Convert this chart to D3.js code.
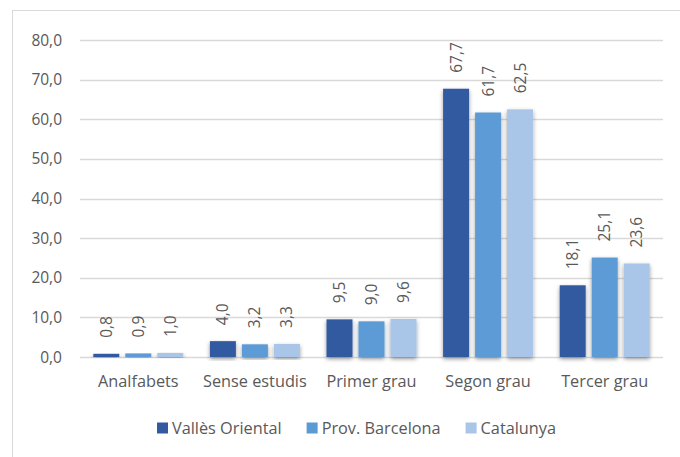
<!DOCTYPE html>
<html>
<head>
<meta charset="utf-8">
<script src="https://cdn.jsdelivr.net/npm/d3@7"></script>
<style>
  body { margin: 0; background: #fff; }
  text { font-family: "Open Sans", sans-serif; fill: #595959; }
</style>
</head>
<body>
<div id="chart"></div>
<script>
// Data
const categories = ['Analfabets', 'Sense estudis', 'Primer grau', 'Segon grau', 'Tercer grau'];
const seriesNames = ['Vallès Oriental', 'Prov. Barcelona', 'Catalunya'];
const vallesOriental = [0.8, 4.0, 9.5, 67.7, 18.1];
const provBarcelona = [0.9, 3.2, 9.0, 61.7, 25.1];
const catalunya = [1.0, 3.3, 9.6, 62.5, 23.6];
const yTicks = [0, 10, 20, 30, 40, 50, 60, 70, 80];

const colors = ['#335AA1', '#5B9BD5', '#A9C5E7'];
const seriesValues = [vallesOriental, provBarcelona, catalunya];

const width = 680;
const height = 457;

const svg = d3.select('#chart')
    .append('svg')
    .attr('width', width)
    .attr('height', height);

// shadow for the bars
const defs = svg.append('defs');
const filter = defs.append('filter')
    .attr('id', 'shadow')
    .attr('x', '-30%').attr('y', '-10%')
    .attr('width', '160%').attr('height', '130%');
filter.append('feDropShadow')
    .attr('dx', 0)
    .attr('dy', 2)
    .attr('stdDeviation', 2)
    .attr('flood-color', '#000')
    .attr('flood-opacity', 0.4);

// chart frame (runs off the right and bottom edges)
svg.append('rect')
    .attr('x', 12.5)
    .attr('y', 10.5)
    .attr('width', 700)
    .attr('height', 500)
    .attr('fill', 'none')
    .attr('stroke', '#d9d9d9');

const x0 = d3.scaleBand()
    .domain(categories)
    .range([80, 663])
    .paddingInner(0.228)
    .paddingOuter(0.114);

const x1 = d3.scaleBand()
    .domain(seriesNames)
    .range([0, x0.bandwidth()])
    .paddingInner(0.1875);

const y = d3.scaleLinear()
    .domain([0, 80])
    .range([357, 40]);

// gridlines
svg.append('g')
    .selectAll('line')
    .data(yTicks)
    .join('line')
        .attr('x1', 80)
        .attr('x2', 663)
        .attr('y1', d => Math.round(y(d)) + 0.5)
        .attr('y2', d => Math.round(y(d)) + 0.5)
        .attr('stroke', '#d9d9d9')
        .attr('stroke-width', 1.3);

// y tick labels
svg.append('g')
    .selectAll('text')
    .data(yTicks)
    .join('text')
        .attr('x', 62)
        .attr('y', d => y(d))
        .attr('dy', '0.36em')
        .attr('text-anchor', 'end')
        .style('font-size', '15.5px')
        .text(d => d3.format('.1f')(d).replace('.', ','));

// bars
const rows = categories.map((c, i) => ({
    category: c,
    values: seriesNames.map((s, j) => ({ series: s, value: seriesValues[j][i], color: colors[j] }))
}));

const groups = svg.append('g')
    .selectAll('g')
    .data(rows)
    .join('g')
        .attr('transform', d => `translate(${x0(d.category)}, 0)`);

groups.selectAll('rect')
    .data(d => d.values)
    .join('rect')
        .attr('x', d => x1(d.series))
        .attr('y', d => y(d.value))
        .attr('width', x1.bandwidth())
        .attr('height', d => y(0) - y(d.value))
        .attr('fill', d => d.color)
        .attr('filter', 'url(#shadow)');

// value labels, rotated
groups.selectAll('text')
    .data(d => d.values)
    .join('text')
        .attr('transform', d => `translate(${x1(d.series) + x1.bandwidth() / 2}, ${y(d.value) - 16}) rotate(-90)`)
        .attr('dy', '0.36em')
        .attr('text-anchor', 'start')
        .style('font-size', '15.5px')
        .text(d => d3.format('.1f')(d.value).replace('.', ','));

// category labels
svg.append('g')
    .selectAll('text')
    .data(categories)
    .join('text')
        .attr('x', d => x0(d) + x0.bandwidth() / 2)
        .attr('y', 387)
        .attr('text-anchor', 'middle')
        .style('font-size', '16.3px')
        .text(d => d);

// legend
const legend = svg.append('g');
let lx = 157;
seriesNames.forEach((name, i) => {
    legend.append('rect')
        .attr('x', lx)
        .attr('y', 422.5)
        .attr('width', 11)
        .attr('height', 11)
        .attr('fill', colors[i]);
    const t = legend.append('text')
        .attr('x', lx + 15)
        .attr('y', 428)
        .attr('dy', '0.36em')
        .style('font-size', '16.3px')
        .text(name);
    lx += 15 + t.node().getComputedTextLength() + 25;
});
</script>
</body>
</html>
